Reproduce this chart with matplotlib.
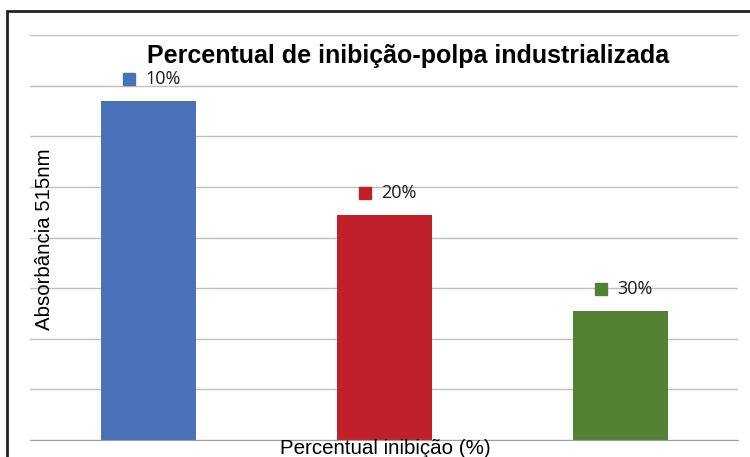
import matplotlib.pyplot as plt
from matplotlib.patches import Rectangle
from matplotlib.transforms import ScaledTranslation

# dados
categorias = ['10%', '20%', '30%']
absorbancia = [6.70, 4.45, 2.55]
cores = ['#4a72b8', '#c0202a', '#548235']

plt.rcParams['font.family'] = ['Liberation Sans', 'DejaVu Sans']

fig = plt.figure(figsize=(7.5, 4.57), dpi=100)
ax = fig.add_axes([30 / 750, 17 / 457, 708 / 750, 405 / 457])

x = list(range(len(categorias)))
ax.bar(x, absorbancia, width=95 / 236, color=cores, zorder=2)

ax.set_xlim(-0.5, 2.5)
ax.set_ylim(0, 8)
ax.set_yticks(range(0, 9))
ax.yaxis.grid(True, color='#c0c0c0', linewidth=1, zorder=0)
ax.tick_params(left=False, bottom=False, labelleft=False, labelbottom=False)
for s in ['left', 'right', 'top']:
    ax.spines[s].set_visible(False)
ax.spines['bottom'].set_color('#a0a0a0')
ax.spines['bottom'].set_zorder(3)

# rótulos com marcador quadrado acima das barras
desloc = ax.transData + ScaledTranslation(-19 / 100, 22 / 100, fig.dpi_scale_trans)
for xi, v, c, lab in zip(x, absorbancia, cores, categorias):
    ax.plot([xi], [v], marker='s', markersize=8.5, color=c, linestyle='none',
            transform=desloc, clip_on=False, zorder=4)
    ax.annotate(lab, xy=(xi, v), xytext=(-3, 22), textcoords='offset pixels',
                ha='left', va='center', fontsize=13, family=['Open Sans', 'DejaVu Sans'],
                color='#1a1a1a')

ax.set_title('Percentual de inibição-polpa industrializada', fontsize=18,
             fontweight='bold', x=(408 - 30) / 708, y=0.948, va='center', pad=0)
fig.text(45 / 750, 1 - 239 / 457, 'Absorbância 515nm', rotation=90,
         ha='center', va='center', fontsize=14.7)
fig.text(385 / 750, 1 - 449 / 457, 'Percentual inibição (%)',
         ha='center', va='center', fontsize=14.8)

# moldura do gráfico
fig.patches.append(Rectangle((7 / 750, -0.1), 1.0, 1 - 11 / 457 + 0.1,
                             transform=fig.transFigure, fill=False,
                             edgecolor='#222222', linewidth=2))

fig.savefig('out.png', dpi=100)
